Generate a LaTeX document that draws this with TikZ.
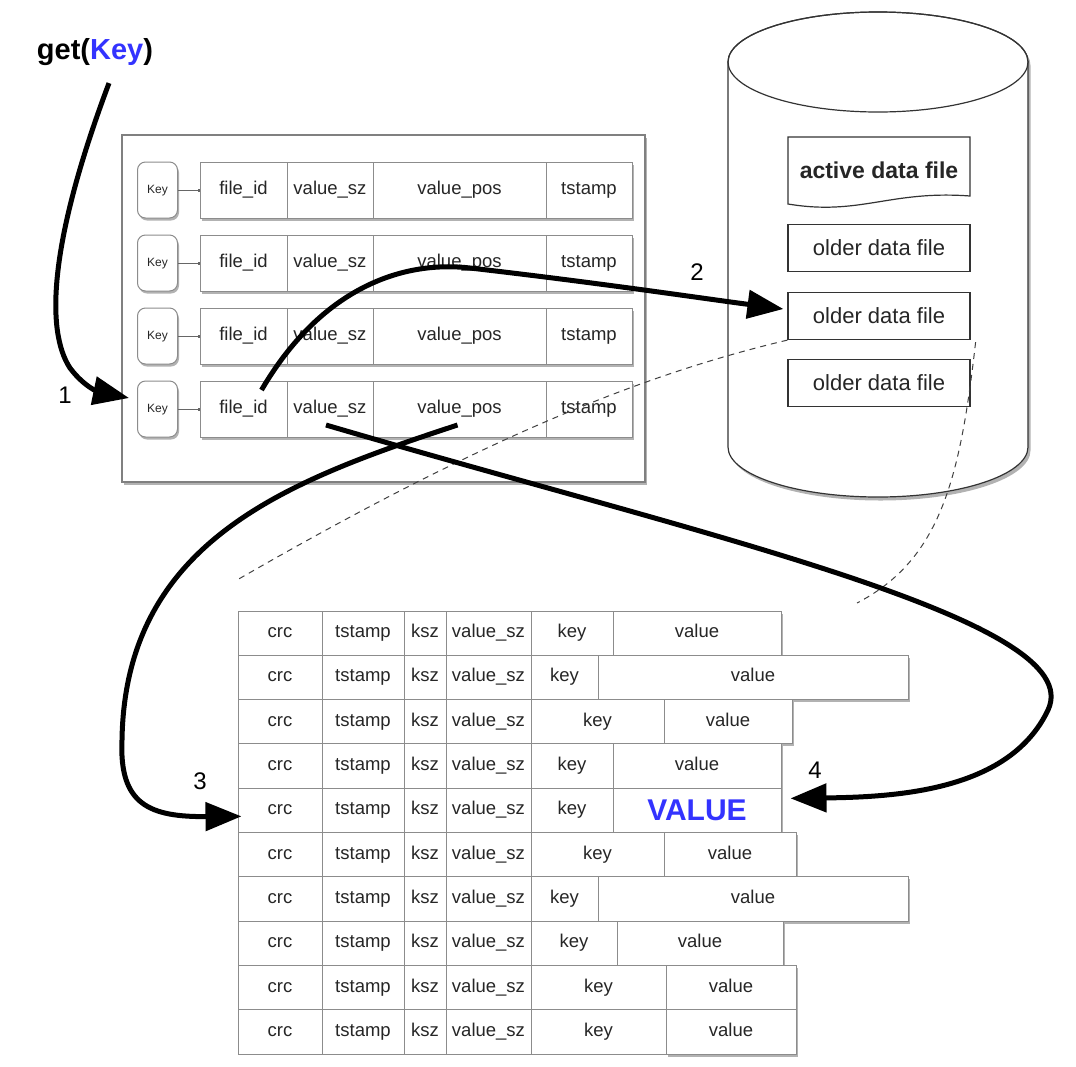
\documentclass[tikz,border=0pt]{standalone}
\usepackage{fontspec}
\setmainfont{Liberation Sans}
\usepackage{xcolor}
\usetikzlibrary{arrows.meta,shadows,calc}
\definecolor{keyblue}{RGB}{51,51,255}

\newcommand{\dbcellfont}{\fontsize{18.5}{20}\selectfont}
\newcommand{\dbkeyfont}{\fontsize{12}{14}\selectfont}
\newcommand{\dbfilefont}{\fontsize{22}{24}\selectfont}
\newcommand{\dbactfont}{\fontsize{23}{25}\selectfont\bfseries}
\newcommand{\dbgetfont}{\fontsize{29}{32}\selectfont\bfseries}
\newcommand{\dbnumfont}{\fontsize{24}{26}\selectfont}
\newcommand{\dbbigvalue}{\raisebox{-6pt}{\fontsize{30}{32}\selectfont\bfseries\color{keyblue}VALUE}}

\begin{document}
\begin{tikzpicture}[
    x=1pt, y=-1pt,
    softshadow/.style={drop shadow={shadow xshift=1.5pt, shadow yshift=-2.5pt, opacity=0.3, fill=black}},
    frame/.style={draw=black!50, line width=1.2pt, fill=white, softshadow},
    recbox/.style={fill=white, inner sep=0pt, minimum width=432pt, minimum height=56pt, softshadow},
    kcell/.style={draw=black!45, line width=1pt, inner sep=0pt, minimum height=56pt, text height=13pt, text depth=4pt, font=\dbcellfont, text=black!85},
    keybox/.style={kcell, rounded corners=8pt, fill=white, minimum width=40pt, text height=9pt, text depth=3pt, font=\dbkeyfont, softshadow},
    kdlink/.style={draw=black!60, line width=0.8pt, -{Rectangle[length=2pt,width=3pt]}},
    dcell/.style={draw=black!45, line width=1pt, fill=white, inner sep=0pt, minimum height=44.3pt, text height=13pt, text depth=4pt, font=\dbcellfont, text=black!85},
    cyl/.style={draw=black!80, line width=1.2pt, fill=white, drop shadow={shadow xshift=2.5pt, shadow yshift=-3.5pt, opacity=0.3, fill=black}},
    filebox/.style={draw=black!80, line width=1.2pt, fill=white, minimum width=182pt, minimum height=47pt, inner sep=0pt, font=\dbfilefont, text=black!85},
    zoomline/.style={dash pattern=on 6pt off 5pt, draw=black!75, line width=1pt},
    bigarrow/.style={line width=5pt, -{Triangle[length=36pt,width=28pt]}},
    stepnum/.style={font=\dbnumfont}
]
\useasboundingbox (0,0) rectangle (1076,1066);

% get request
\node[font=\dbgetfont] (get) at (95,52) {get(\textcolor{keyblue}{Key})};

% keydir
\draw[frame] (122,135) rectangle (645,482);
\foreach \i in {1,...,4}{
  \pgfmathsetmacro{\yy}{190+73*(\i-1)}
  \node[recbox] (kdrec\i) at (416,\yy) {};
  \node[keybox] (kdkey\i) at (157.5,\yy) {Key};
  \node[kcell, minimum width=87pt] (kdfid\i) at (243.5,\yy) {file\_id};
  \node[kcell, minimum width=86pt] (kdvsz\i) at (330,\yy) {value\_sz};
  \node[kcell, minimum width=173pt] (kdvpos\i) at (459.5,\yy) {value\_pos};
  \node[kcell, minimum width=86pt] (kdts\i) at (589,\yy) {tstamp};
  \draw[kdlink] (kdkey\i) -- (kdfid\i);
}

% data files on disk
\draw[cyl] (728,62) -- (728,447) arc[start angle=180, end angle=0, x radius=150, y radius=50]
  -- (1028,62) arc[start angle=0, end angle=-180, x radius=150, y radius=50] -- cycle;
\draw[draw=black!80, line width=1.2pt] (878,62) ellipse[x radius=150, y radius=50];

\draw[draw=black!80, line width=1.2pt, fill=white] (788,137) -- (970,137) -- (970,196)
  .. controls (890,190) and (860,216) .. (788,204) -- cycle;
\node[font=\dbactfont, text=black!85] (act) at (879,170) {active data file};
\node[filebox] (old1) at (879,248) {older data file};
\node[filebox] (old2) at (879,316) {older data file};
\node[filebox] (old3) at (879,383) {older data file};

% data file records
\foreach \i/\k/\r/\v in {1/613/781/value, 2/598/908/value, 3/664/792/value,
    4/613/781/value, 5/613/781/\dbbigvalue, 6/664/796/value, 7/598/908/value,
    8/617/783/value, 9/666/796/value, 10/666/796/value}{
  \pgfmathsetmacro{\yy}{611+44.3*(\i-0.5)}
  \pgfmathsetmacro{\kw}{\k-531}
  \pgfmathsetmacro{\kc}{(\k+531)/2}
  \pgfmathsetmacro{\vw}{\r-\k}
  \pgfmathsetmacro{\vc}{(\r+\k)/2}
  \node[dcell, minimum width=84pt] (dcrc\i) at (280,\yy) {crc};
  \node[dcell, minimum width=82pt] (dts\i) at (363,\yy) {tstamp};
  \node[dcell, minimum width=42pt] (dksz\i) at (425,\yy) {ksz};
  \node[dcell, minimum width=85pt] (dvsz\i) at (488.5,\yy) {value\_sz};
  \node[dcell, minimum width=\kw pt] (dkey\i) at (\kc,\yy) {key};
  \node[dcell, minimum width=\vw pt, softshadow] (dval\i) at (\vc,\yy) {\v};
}

% zoom lines
\coordinate (zoomL) at (237,580);
\coordinate (zoomR) at (857,603);
\draw[zoomline] (old2.south west) .. controls (640,375) and (480,440) .. (zoomL);
\draw[zoomline] ($(old2.south east)+(5,2)$) .. controls (960,480) and (940,560) .. (zoomR);

% lookup steps
\draw[bigarrow] ($(get.south)+(14,14)$) .. controls (50,240) and (45,330) .. (70,368)
  .. controls (85,388) and (100,392) .. ($(kdkey4.west)+(-8,-11)$);
\draw[bigarrow] ($(kdfid4.center)+(18,-19)$) .. controls (320,290) and (400,260) .. (470,268)
  .. controls (600,283) and (700,298) .. ($(old2.west)+(-4,-7)$);
\draw[bigarrow] ($(kdvpos4.center)+(-2,16)$) .. controls (290,480) and (125,540) .. (122,740)
  .. controls (119,805) and (150,817) .. ($(dcrc5.west)+(4,6)$);
\draw[bigarrow] ($(kdvsz4.center)+(-4,16)$) .. controls (700,535) and (1090,620) .. (1048,710)
  .. controls (1010,790) and (900,797) .. ($(dval5.east)+(9,-12)$);

\node[stepnum] (n1) at (65,395) {1};
\node[stepnum] (n2) at (697,272) {2};
\node[stepnum] (n3) at (200,781) {3};
\node[stepnum] (n4) at (815,770) {4};

\end{tikzpicture}
\end{document}
